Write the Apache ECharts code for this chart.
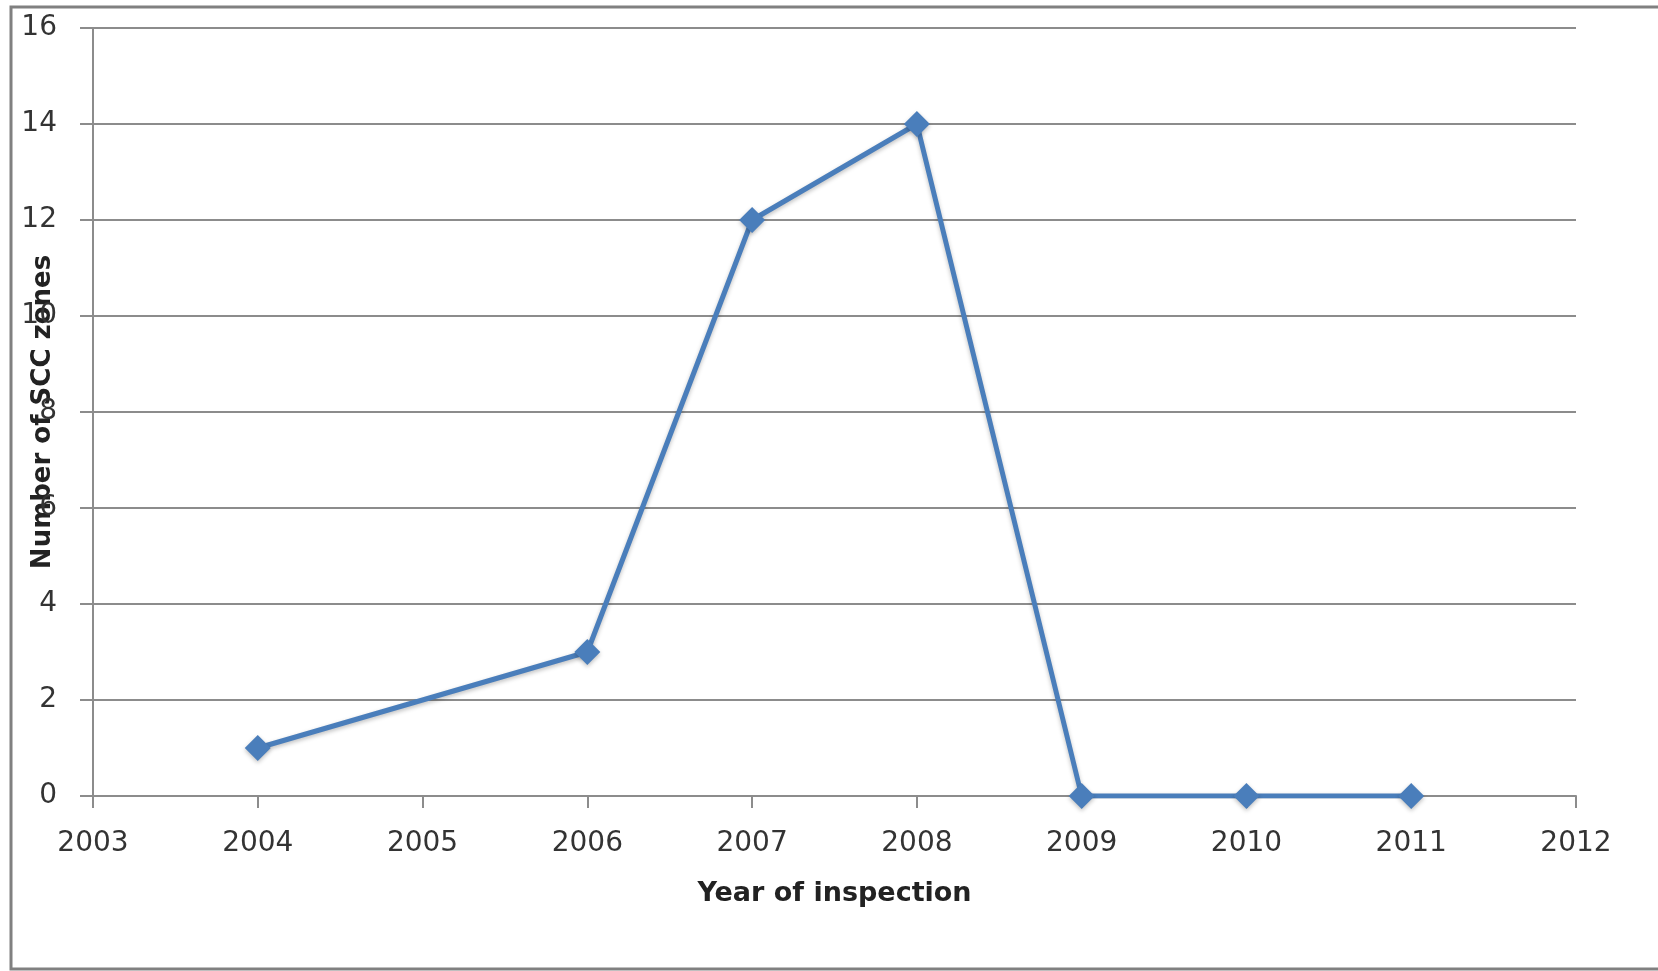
<!DOCTYPE html>
<html>
<head>
<meta charset="utf-8">
<script src="https://cdn.jsdelivr.net/npm/echarts@6/dist/echarts.min.js"></script>
<style>
  html, body { margin: 0; padding: 0; background: #fff; }
  #chart { width: 1658px; height: 971px; }
</style>
</head>
<body>
<div id="chart"></div>
<script>
// year of inspection vs number of SCC zones
var years = [2004, 2006, 2007, 2008, 2009, 2010, 2011];
var zones = [1, 3, 12, 14, 0, 0, 0];

var chart = echarts.init(document.getElementById('chart'));

var fontName = 'DejaVu Sans';

var option = {
    animation: false,
    backgroundColor: '#fff',
    graphic: [
        {
            type: 'rect',
            shape: { x: 11, y: 7, width: 1700, height: 962 },
            style: { fill: 'none', stroke: '#808080', lineWidth: 3 },
            silent: true
        }
    ],
    grid: {
        left: 93,
        right: 82,
        top: 28,
        bottom: 175
    },
    xAxis: {
        type: 'value',
        min: 2003,
        max: 2012,
        interval: 1,
        name: 'Year of inspection',
        nameLocation: 'middle',
        nameGap: 84,
        nameMoveOverlap: false,
        nameTextStyle: { fontFamily: fontName, fontWeight: 'bold', fontSize: 27, color: '#222' },
        axisLine: { onZero: false, lineStyle: { color: '#8c8c8c', width: 2 } },
        axisTick: { show: true, length: 12, lineStyle: { color: '#8c8c8c', width: 2 } },
        axisLabel: {
            fontFamily: fontName, fontSize: 28, color: '#333', margin: 34,
            formatter: function (v) { return String(v); }
        },
        splitLine: { show: false }
    },
    yAxis: {
        type: 'value',
        min: 0,
        max: 16,
        interval: 2,
        name: 'Number of SCC zones',
        nameLocation: 'middle',
        nameGap: 37,
        nameRotate: 90,
        nameMoveOverlap: false,
        nameTextStyle: { fontFamily: fontName, fontWeight: 'bold', fontSize: 26, color: '#222' },
        axisLine: { show: true, lineStyle: { color: '#8c8c8c', width: 2 } },
        axisTick: { show: true, length: 13, lineStyle: { color: '#8c8c8c', width: 2 } },
        axisLabel: { fontFamily: fontName, fontSize: 28, color: '#333', margin: 36 },
        splitLine: { show: true, lineStyle: { color: '#8c8c8c', width: 2 } }
    },
    series: [
        {
            type: 'line',
            data: years.map(function (y, i) { return [y, zones[i]]; }),
            symbol: 'diamond',
            symbolSize: 26,
            lineStyle: {
                color: '#4a7ebb', width: 5,
                shadowColor: 'rgba(0,0,0,0.25)', shadowBlur: 4, shadowOffsetY: 2
            },
            itemStyle: {
                color: '#4a7ebb',
                shadowColor: 'rgba(0,0,0,0.25)', shadowBlur: 4, shadowOffsetY: 2
            }
        }
    ]
};

chart.setOption(option);
</script>
</body>
</html>
